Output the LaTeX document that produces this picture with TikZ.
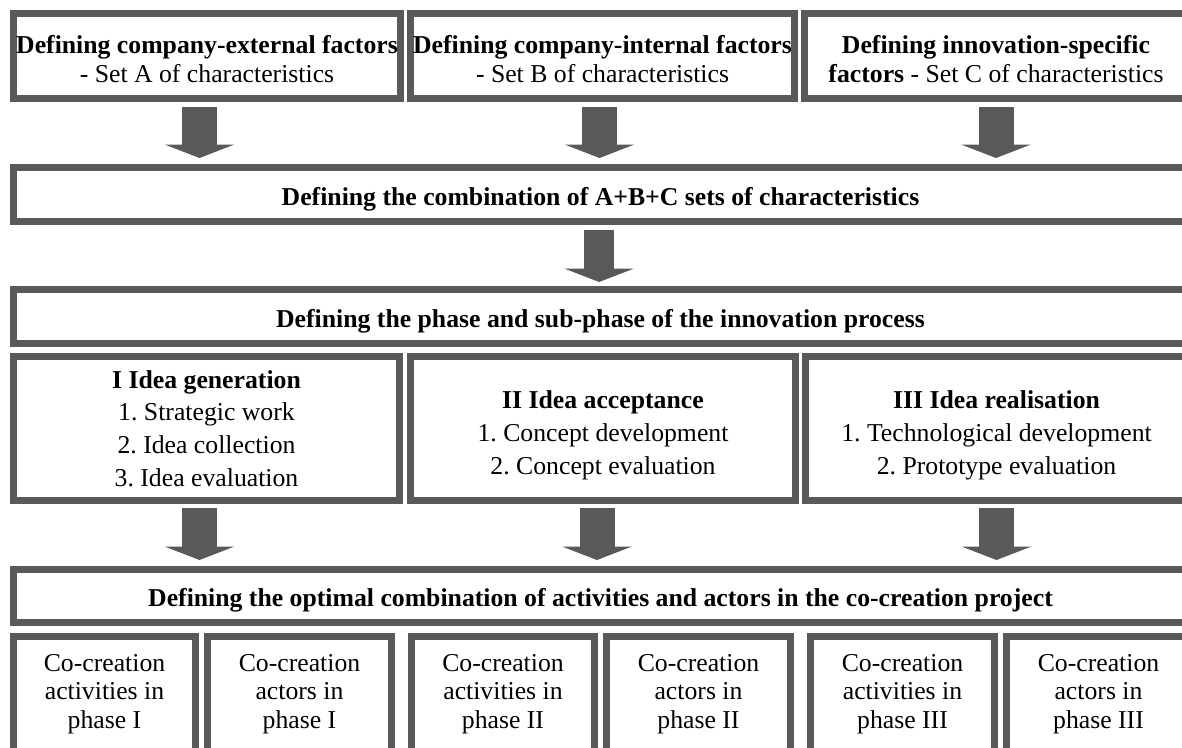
\documentclass[tikz,border=0pt]{standalone}
\usepackage{fontspec}
\setmainfont{Liberation Serif}
\usetikzlibrary{arrows.meta}
\definecolor{boxgray}{RGB}{89,89,89}
\frenchspacing
\tikzset{every picture/.style={line width=0.75pt}}
\tikzset{
  boxframe/.style={draw=boxgray, line width=5.25pt, inner sep=0pt, align=center, font=\fontsize{19.3}{21.3}\selectfont},
  topbox/.style={boxframe, minimum height=63.75pt},
  phasebox/.style={boxframe, minimum height=108pt, font=\fontsize{19.3}{24.5}\selectfont},
  widebox/.style={boxframe, minimum width=880.5pt, minimum height=40.5pt, text height=16pt, text depth=0pt},
  cellbox/.style={boxframe, minimum height=86.25pt},
  blockarrow/.style={draw=boxgray, line width=26.25pt, -{Triangle[width=51.75pt,length=10pt,line width=0pt]}}
}
\newcommand{\lowerby}[1]{\rule{0pt}{#1}}

\begin{document}
\begin{tikzpicture}[x=0.75pt,y=0.75pt,yscale=-1,xscale=1]
\useasboundingbox (0,0) rectangle (1182,747);
\clip (0,0) rectangle (1182,747);

% Text Node
\node[topbox, minimum width=290.25pt] (setA) at (207,56) {\lowerby{18.3pt}\textbf{Defining company-external factors}\\- Set A of characteristics};
% Text Node
\node[topbox, minimum width=288pt] (setB) at (602.5,56) {\lowerby{18.3pt}\textbf{Defining company-internal factors}\\- Set B of characteristics};
% Text Node
\node[topbox, minimum width=287.25pt] (setC) at (996,56) {\lowerby{18.3pt}\textbf{Defining innovation-specific}\\\textbf{factors} - Set C of characteristics};
% Text Node
\node[widebox] (combo) at (600.5,194.5) {\textbf{Defining the combination of A+B+C sets of characteristics}};
% Text Node
\node[widebox] (phase) at (600.5,316.5) {\textbf{Defining the phase and sub-phase of the innovation process}};
% Text Node
\node[phasebox, minimum width=289.5pt] (genI) at (206.5,428.5) {\textbf{I Idea generation}\\1. Strategic work\\2. Idea collection\\3. Idea evaluation};
% Text Node
\node[phasebox, minimum width=288.75pt] (accII) at (603,428.5) {\lowerby{23.5pt}\textbf{II Idea acceptance}\\1. Concept development\\2. Concept evaluation};
% Text Node
\node[phasebox, minimum width=286.5pt] (realIII) at (996.5,428.5) {\lowerby{23.5pt}\textbf{III Idea realisation}\\1. Technological development\\2. Prototype evaluation};
% Text Node
\node[widebox, minimum height=39.75pt] (optimal) at (600.5,596) {\textbf{Defining the optimal combination of activities and actors in the co-creation project}};
% Text Node
\node[cellbox, minimum width=136.5pt] (actI) at (104.5,694) {Co-creation\\activities in\\phase I};
% Text Node
\node[cellbox, minimum width=138pt] (actorI) at (299.5,694) {Co-creation\\actors in\\phase I};
% Text Node
\node[cellbox, minimum width=137.25pt] (actII) at (503,694) {Co-creation\\activities in\\phase II};
% Text Node
\node[cellbox, minimum width=138pt] (actorII) at (698.5,694) {Co-creation\\actors in\\phase II};
% Text Node
\node[cellbox, minimum width=138pt] (actIII) at (902.5,694) {Co-creation\\activities in\\phase III};
% Text Node
\node[cellbox, minimum width=138pt] (actorIII) at (1098.5,694) {Co-creation\\actors in\\phase III};

%Block Arrows
\draw[blockarrow, shorten <=3.75pt, shorten >=4.5pt] ([xshift=-5.625pt]setA.south) -- ([xshift=-5.625pt]setA.south |- combo.north);
\draw[blockarrow, shorten <=3.75pt, shorten >=4.5pt] ([xshift=-2.25pt]setB.south) -- ([xshift=-2.25pt]setB.south |- combo.north);
\draw[blockarrow, shorten <=3.75pt, shorten >=4.5pt] (setC.south) -- (setC.south |- combo.north);
\draw[blockarrow, line width=22.5pt, shorten <=3.75pt, shorten >=3pt] ([xshift=-1pt]combo.south) -- ([xshift=-1pt]combo.south |- phase.north);
\draw[blockarrow, shorten <=3pt, shorten >=4.5pt] ([xshift=-5.25pt]genI.south) -- ([xshift=-5.25pt]genI.south |- optimal.north);
\draw[blockarrow, shorten <=3pt, shorten >=4.5pt] ([xshift=-4.5pt]accII.south) -- ([xshift=-4.5pt]accII.south |- optimal.north);
\draw[blockarrow, shorten <=3pt, shorten >=4.5pt] (realIII.south) -- (realIII.south |- optimal.north);

\end{tikzpicture}
\end{document}
